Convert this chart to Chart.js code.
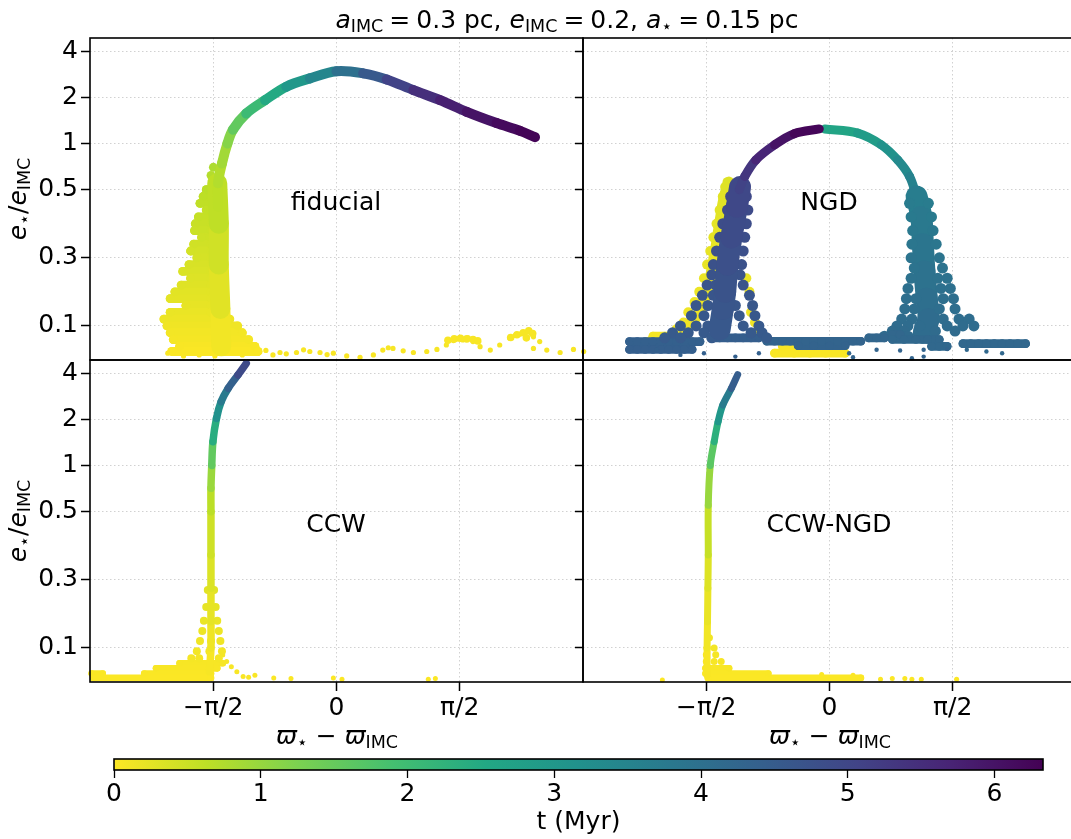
<!DOCTYPE html>
<html>
<head>
<meta charset="utf-8">
<script src="https://cdn.jsdelivr.net/npm/chart.js@4.4.1/dist/chart.umd.min.js"></script>
<style>
  html, body { margin: 0; padding: 0; background: #fff; overflow: hidden; }
  body { width: 1071px; height: 839px; position: relative; font-family: "DejaVu Sans", sans-serif; color: #000; }
  canvas { position: absolute; }
  .lbl { position: absolute; white-space: nowrap; transform: translate(-50%, -50%); font-size: 25px; line-height: 1; }
  .rot { transform: translate(-50%, -50%) rotate(-90deg); }
  .lbl i { font-style: oblique; }
  .lbl sub { font-size: 0.7em; vertical-align: -0.28em; line-height: 0; }
  .eq { margin: 0 0.24em; }
</style>
</head>
<body>
<canvas id="tl" width="610" height="340" style="left:0;top:30px"></canvas>
<canvas id="tr" width="510" height="340" style="left:575px;top:30px"></canvas>
<canvas id="bl" width="610" height="388" style="left:0;top:352px"></canvas>
<canvas id="br" width="510" height="388" style="left:575px;top:352px"></canvas>
<canvas id="cbar" width="981" height="89" style="left:90px;top:750px"></canvas>

<div class="lbl" style="left:567px;top:18.5px"><i>a</i><sub>IMC</sub><span class="eq">=</span>0.3 pc, <i>e</i><sub>IMC</sub><span class="eq">=</span>0.2, <i>a</i><sub>⋆</sub><span class="eq">=</span>0.15 pc</div>
<div class="lbl rot" style="left:17px;top:199px"><i>e</i><sub>⋆</sub>/<i>e</i><sub>IMC</sub></div>
<div class="lbl rot" style="left:17px;top:521px"><i>e</i><sub>⋆</sub>/<i>e</i><sub>IMC</sub></div>
<div class="lbl" style="left:337px;top:735px"><i>ϖ</i><sub>⋆</sub> − <i>ϖ</i><sub>IMC</sub></div>
<div class="lbl" style="left:830px;top:735px"><i>ϖ</i><sub>⋆</sub> − <i>ϖ</i><sub>IMC</sub></div>
<div class="lbl" style="left:336px;top:201px">fiducial</div>
<div class="lbl" style="left:829px;top:201px">NGD</div>
<div class="lbl" style="left:336px;top:523px">CCW</div>
<div class="lbl" style="left:829px;top:523px">CCW-NGD</div>

<script>
// axes
const T_MAX = 6.33;
const Y_MAX = 4.88;
const yTicks = [0.1, 0.3, 0.5, 1, 2, 4];
const xTicks = [-Math.PI / 2, 0, Math.PI / 2];
const xTickLabels = ['−π/2', '0', 'π/2'];
const cbTicks = [0, 1, 2, 3, 4, 5, 6];

// --- fiducial ---
// main track (x = ϖ⋆−ϖIMC, e = e⋆/eIMC, t in Myr)
const fidX = [-1.51,-1.51,-1.46,-1.39,-1.32,-1.15,-0.91,-0.64,-0.34,0.00,0.34,0.64,0.98,1.32,1.66,2.04,2.34,2.53];
const fidE = [0.45,0.55,0.74,1.00,1.23,1.57,1.92,2.35,2.66,2.96,2.87,2.62,2.23,1.92,1.61,1.36,1.21,1.10];
const fidT = [0.58,0.68,0.78,1.00,1.30,1.80,2.25,2.75,3.20,3.70,4.30,4.85,5.30,5.65,5.90,6.10,6.22,6.33];
// dense stalk core
const fidCoreX = [-1.47,-1.48,-1.50,-1.50,-1.52];
const fidCoreE = [0.04,0.15,0.28,0.40,0.55];
const fidCoreT = [0.03,0.18,0.38,0.52,0.70];
// jagged clumps beside the stalk, one row per e level
const fidBlobE = [0.70,0.62,0.50,0.48,0.46,0.44,0.42,0.40,0.38,0.36,0.34,0.32,0.30,0.28,0.26,0.24,0.22,0.20,0.18,0.16,0.14,0.12,0.10,0.08,0.06,0.04,0.025];
const fidBlobT = [0.78,0.72,0.66,0.63,0.60,0.57,0.55,0.52,0.50,0.47,0.45,0.42,0.40,0.37,0.35,0.32,0.30,0.27,0.25,0.22,0.19,0.16,0.13,0.10,0.08,0.05,0.03];
const fidBlobX = [
  [-1.57], [-1.60], [-1.66,-1.60], [-1.70,-1.60], [-1.74,-1.60], [-1.66,-1.60], [-1.76,-1.60], [-1.80,-1.60],
  [-1.81,-1.60], [-1.72,-1.60], [-1.82,-1.60], [-1.86,-1.60], [-1.78,-1.60], [-1.88,-1.60], [-1.96,-1.60],
  [-1.86,-1.60], [-1.98,-1.60], [-2.06,-1.60], [-2.12,-1.60], [-1.92,-1.60], [-2.12,-1.60], [-2.20,-1.36],
  [-2.16,-1.26], [-2.12,-1.20], [-2.08,-1.12], [-2.00,-1.04], [-2.10,-1.00]
];
const fidHumpX = [1.42,1.50,1.58,1.66,1.74,1.80,2.22,2.30,2.38,2.45,2.50,2.42];
const fidHumpE = [0.058,0.062,0.064,0.062,0.060,0.056,0.066,0.074,0.080,0.086,0.078,0.065];
const fidHumpT = [0.04,0.04,0.05,0.05,0.05,0.05,0.06,0.06,0.06,0.07,0.07,0.06];
const fidTailX = [-2.15,-1.95,-1.75,-1.55,-1.35,-1.20,-1.10,-1.00,-0.90,-0.81,-0.72,-0.64,-0.51,-0.42,-0.34,-0.21,-0.12,-0.04,0.13,0.30,0.47,0.59,0.66,0.72,0.85,0.98,1.15,1.28,1.40,1.49,1.55,1.61,1.68,1.74,1.83,1.96,2.08,2.21,2.28,2.34,2.40,2.44,2.51,2.59,2.51,2.68,2.85,3.02,3.15,3.23,3.30,3.38];
const fidTailE = [0.020,0.012,0.015,0.012,0.020,0.015,0.030,0.020,0.028,0.015,0.022,0.018,0.022,0.030,0.025,0.022,0.016,0.020,0.012,0.008,0.015,0.029,0.036,0.034,0.027,0.022,0.025,0.031,0.044,0.057,0.062,0.059,0.065,0.054,0.039,0.029,0.044,0.064,0.072,0.076,0.080,0.083,0.068,0.054,0.034,0.029,0.022,0.031,0.025,0.039,0.030,0.018];
const fidTailT = [0.03,0.03,0.03,0.03,0.03,0.03,0.04,0.04,0.05,0.04,0.05,0.05,0.04,0.05,0.05,0.04,0.04,0.05,0.04,0.04,0.04,0.05,0.06,0.06,0.05,0.05,0.05,0.06,0.07,0.08,0.08,0.08,0.08,0.07,0.06,0.05,0.06,0.07,0.08,0.09,0.09,0.10,0.09,0.08,0.06,0.05,0.05,0.05,0.04,0.05,0.04,0.03];

// --- NGD ---
const ngdRX = [-0.06,0.36,0.66,0.87,1.02,1.11];
const ngdRE = [1.245,1.17,0.98,0.78,0.61,0.48];
const ngdRT = [2.55,2.75,3.00,3.25,3.45,3.62];
const ngdRLegX = [1.11,1.17,1.19,1.21,1.24,1.26,1.20];
const ngdRLegE = [0.48,0.42,0.34,0.26,0.18,0.12,0.08];
const ngdRLegT = [3.62,3.72,3.82,3.92,4.00,4.06,4.12];
const ngdRBlobE = [0.46,0.42,0.38,0.34,0.30,0.27,0.24,0.21,0.18,0.15,0.12,0.10,0.085,0.07];
const ngdRBlobT = [3.70,3.75,3.80,3.85,3.90,3.93,3.96,3.99,4.02,4.05,4.08,4.10,4.12,4.14];
const ngdRBlobX = [
  [1.02,1.26], [1.04,1.30], [1.06,1.32], [1.05,1.36], [1.04,1.40], [1.08,1.44], [1.04,1.38,1.50],
  [1.00,1.42,1.54], [0.98,1.10,1.45,1.58], [0.96,1.08,1.40,1.60], [0.92,1.05,1.45,1.65,1.78],
  [0.86,1.00,1.15,1.50,1.70,1.84], [0.80,0.95,1.35,1.60], [0.70,0.85,1.00]
];
const ngdLegX = [-1.40,-1.36,-1.33,-1.30,-1.25,-1.18,-1.14];
const ngdLegE = [0.09,0.15,0.20,0.28,0.36,0.45,0.52];
const ngdLegT = [4.55,4.62,4.68,4.75,4.82,4.92,5.00];
const ngdLX = [-1.15,-1.08,-0.94,-0.70,-0.45,-0.13];
const ngdLE = [0.50,0.61,0.78,0.98,1.16,1.245];
const ngdLT = [4.98,5.20,5.50,5.85,6.15,6.33];
const ngdLBlobE = [0.48,0.44,0.40,0.36,0.32,0.28,0.25,0.22,0.19,0.16,0.13,0.10,0.08,0.065];
const ngdLBlobT = [4.95,4.90,4.86,4.82,4.78,4.75,4.72,4.69,4.66,4.63,4.60,4.57,4.54,4.52];
const ngdLBlobX = [
  [-1.26,-1.06], [-1.30,-1.04], [-1.36,-1.06], [-1.40,-1.08], [-1.44,-1.10], [-1.48,-1.12], [-1.50,-1.14],
  [-1.56,-1.45,-1.10], [-1.62,-1.48,-1.02], [-1.70,-1.55,-1.20,-0.98], [-1.76,-1.60,-1.15,-0.95],
  [-1.90,-1.70,-1.55,-1.10,-0.90], [-2.00,-1.80,-1.60,-1.00,-0.86], [-2.10,-1.90,-1.50,-0.80]
];
// early (yellow) points along the left leg and along the bottom
const ngdYelTrackX = [-1.28,-1.34,-1.40,-1.47,-1.54,-1.62,-1.72,-1.85];
const ngdYelTrackE = [0.56,0.48,0.40,0.30,0.22,0.16,0.12,0.09];
const ngdYelTrackT = [0.32,0.28,0.25,0.21,0.18,0.15,0.13,0.11];
const ngdYelE = [0.56,0.52,0.48,0.44,0.40,0.36,0.32,0.28,0.24,0.20,0.17,0.14,0.11,0.09];
const ngdYelT = [0.32,0.30,0.28,0.27,0.25,0.24,0.22,0.21,0.19,0.17,0.16,0.14,0.12,0.11];
const ngdYelX = [
  [-1.30], [-1.33], [-1.36], [-1.40], [-1.44], [-1.48], [-1.52], [-1.56], [-1.60,-1.06], [-1.66,-1.02],
  [-1.72], [-1.80,-1.00], [-1.86,-0.95], [-1.95,-0.90]
];
const ngdYelLowE = [0.07,0.055,0.04,0.02];
const ngdYelLowT = [0.09,0.08,0.06,0.04];
const ngdYelLowX = [
  [-2.25,-2.10,-1.90], [-2.30,-2.15], [-0.60,-0.40,-0.20,0.00,0.15], [-0.70,-0.45,-0.25,-0.05,0.20]
];
const ngdSprayE = [0.054,0.031,0.065,0.055,0.042,0.065,0.075,0.060,0.048,0.040];
const ngdSprayT = [4.40,4.42,4.45,4.30,4.32,4.26,4.24,4.20,4.22,4.21];
const ngdSprayX = [
  [-2.55,-2.45,-2.35,-2.25,-2.15,-2.05,-1.95,-1.85,-1.75,-1.65],
  [-2.55,-2.45,-2.35,-2.25,-2.15,-2.05,-1.95,-1.85,-1.75],
  [-1.50,-1.40,-1.30,-1.20,-1.10,-1.00,-0.90],
  [-0.80,-0.70,-0.60,-0.50,-0.40,-0.30,-0.20,-0.10,0.00,0.10,0.20,0.30,0.40],
  [-0.40,-0.20,0.00,0.20],
  [0.50,0.60,0.70],
  [0.80,0.90],
  [0.80,0.95,1.10,1.25,1.40],
  [1.70,1.80,1.90,2.00,2.10,2.20,2.30,2.40,2.50],
  [1.30,1.40,1.50]
];
const ngdDotX = [0.60,0.90,1.20,1.50,0.25,-0.90,-1.90,-2.20,0.30,1.20,2.00,2.20,-1.20,-1.60,1.05,1.75];
const ngdDotE = [0.030,0.028,0.030,0.032,0.020,0.020,0.015,0.030,0.008,0.010,0.025,0.020,0.010,0.020,0.005,0.030];
const ngdDotT = [4.30,4.30,4.30,4.30,4.30,4.40,4.40,4.40,4.30,4.30,4.20,4.20,4.40,4.40,4.30,4.20];

// --- CCW ---
const ccwX = [-1.62,-1.60,-1.60,-1.60,-1.60,-1.60,-1.60,-1.59,-1.575,-1.53,-1.47,-1.38,-1.255,-1.15];
const ccwE = [0.03,0.10,0.177,0.275,0.373,0.50,0.71,1.00,1.43,2.03,2.61,3.19,3.90,4.64];
const ccwT = [0.02,0.10,0.18,0.28,0.40,0.52,0.78,1.15,1.95,2.85,3.50,4.00,4.75,5.10];
const ccwFlareE = [0.27,0.22,0.18,0.15,0.12,0.09,0.07];
const ccwFlareT = [0.28,0.23,0.19,0.16,0.13,0.10,0.08];
const ccwFlareX = [
  [-1.64,-1.56], [-1.66,-1.54], [-1.69,-1.52], [-1.71,-1.50], [-1.74,-1.60,-1.48], [-1.78,-1.62,-1.46],
  [-1.85,-1.75,-1.50]
];
const ccwBaseE = [0.055,0.04,0.025,0.025,0.012];
const ccwBaseT = [0.06,0.05,0.03,0.03,0.02];
const ccwBaseX = [[-2.00,-1.45], [-2.30,-1.52], [-3.12,-2.98], [-2.45,-1.60], [-3.10,-1.60]];
const ccwDotX = [-1.45,-1.40,-1.34,-1.27,-1.19,-1.12,-1.04,-0.80,-0.58,-0.04,0.07,1.17,1.26];
const ccwDotE = [0.079,0.060,0.045,0.030,0.016,0.014,0.020,0.012,0.010,0.012,0.008,0.008,0.010];
const ccwDotT = [0.08,0.07,0.06,0.05,0.04,0.04,0.04,0.03,0.03,0.02,0.02,0.02,0.02];

// --- CCW-NGD ---
const cnX = [-1.56,-1.56,-1.555,-1.55,-1.545,-1.545,-1.52,-1.47,-1.42,-1.36,-1.25,-1.17];
const cnE = [0.02,0.10,0.177,0.275,0.373,0.55,1.00,1.43,1.93,2.48,3.19,3.92];
const cnT = [0.02,0.08,0.15,0.25,0.38,0.70,1.27,2.00,2.65,3.35,4.05,4.90];
const cnFlareE = [0.13,0.10,0.08,0.06];
const cnFlareT = [0.12,0.10,0.08,0.06];
const cnFlareX = [[-1.53], [-1.56,-1.47], [-1.57,-1.45], [-1.57,-1.47,-1.38]];
const cnBaseE = [0.04,0.025,0.012];
const cnBaseT = [0.05,0.03,0.02];
const cnBaseX = [[-1.58,-1.28], [-1.58,-0.78], [-1.55,0.40]];
const cnDotX = [0.65,0.80,0.96,1.05,1.17,1.62,-2.13,0.30,-0.10];
const cnDotE = [0.008,0.010,0.010,0.008,0.008,0.008,0.006,0.020,0.022];
const cnDotT = [0.02,0.02,0.02,0.02,0.02,0.02,0.01,0.02,0.02];

// viridis, reversed so early times are yellow
const VIRIDIS = [[68,1,84],[72,36,117],[65,68,135],[53,95,141],[42,120,142],[33,145,140],[34,168,132],[68,191,112],[122,209,81],[189,223,38],[253,231,37]];
function colorAt(t) {
  const v = Math.min(1, Math.max(0, 1 - t / T_MAX)) * 10;
  const i = Math.min(9, Math.floor(v));
  const f = v - i;
  const a = VIRIDIS[i], b = VIRIDIS[i + 1];
  return 'rgb(' + [0, 1, 2].map(k => Math.round(a[k] + (b[k] - a[k]) * f)).join(',') + ')';
}

// matplotlib-style symlog (base 10, linthresh 0.5, linscale 1)
const LINTHRESH = 0.5;
const LINSCALE = 1 / (1 - 1 / 10);
function symlog(v) {
  const a = Math.abs(v);
  const r = a <= LINTHRESH ? a * LINSCALE : LINTHRESH * (LINSCALE + Math.log10(a / LINTHRESH));
  return v < 0 ? -r : r;
}
function symlogInv(r) {
  const a = Math.abs(r);
  const v = a <= LINTHRESH * LINSCALE ? a / LINSCALE : LINTHRESH * Math.pow(10, a / LINTHRESH - LINSCALE);
  return r < 0 ? -v : v;
}

class SymlogScale extends Chart.LinearScale {
  static id = 'symlog';
  static defaults = {};
  buildTicks() {
    return yTicks.map(v => ({ value: v }));
  }
  configure() {
    super.configure();
    this._sMin = symlog(this.min);
    this._sMax = symlog(this.max);
  }
  getPixelForValue(v) {
    return this.getPixelForDecimal((symlog(v) - this._sMin) / (this._sMax - this._sMin));
  }
  getValueForPixel(p) {
    return symlogInv(this._sMin + this.getDecimalForPixel(p) * (this._sMax - this._sMin));
  }
}
Chart.register(SymlogScale);
Chart.defaults.font.family = '"DejaVu Sans", sans-serif';

const GRID = 'rgba(0,0,0,0.18)';
const GRID_DASH = [1.5, 2.5];
const TICK_FONT = { size: 25 };

const frame = {
  id: 'frame',
  afterDatasetsDraw(chart) {
    const { ctx, chartArea: a } = chart;
    ctx.save();
    ctx.strokeStyle = '#000';
    ctx.lineWidth = 1.6;
    ctx.strokeRect(a.left, a.top, a.right - a.left, a.bottom - a.top);
    ctx.restore();
  }
};

function pts(xs, es, ts) {
  return xs.map((x, i) => ({ x: x, y: es[i], t: ts[i] }));
}

// expand row tables (one e and t per row, several x) into point lists
function rows(rowX, rowE, rowT) {
  const xs = [], es = [], ts = [];
  rowX.forEach((r, i) => r.forEach(x => { xs.push(x); es.push(rowE[i]); ts.push(rowT[i]); }));
  return [xs, es, ts];
}

function dots(xs, es, ts, r) {
  return {
    data: pts(xs, es, ts),
    pointRadius: r,
    pointBorderWidth: 0,
    pointBackgroundColor: c => (c.raw ? colorAt(c.raw.t) : '#000'),
    clip: false
  };
}

// each row of clumped points drawn as one short thick stroke
function bars(rowX, rowE, rowT, w) {
  const out = [];
  rowX.forEach((r, i) => {
    if (r.length < 2) return;
    out.push({
      type: 'line',
      data: r.map(x => ({ x: x, y: rowE[i], t: rowT[i] })),
      borderWidth: w,
      borderColor: colorAt(rowT[i]),
      borderCapStyle: 'round',
      borderJoinStyle: 'round',
      tension: 0,
      pointRadius: 0,
      fill: false,
      clip: false
    });
  });
  return out;
}

function clumps(rowX, rowE, rowT, r) {
  return [...bars(rowX, rowE, rowT, 2 * r), dots(...rows(rowX, rowE, rowT), r)];
}

function track(xs, es, ts, w) {
  const data = pts(xs, es, ts);
  return {
    type: 'line',
    data: data,
    borderWidth: w,
    borderColor: colorAt(ts[0]),
    borderCapStyle: 'round',
    borderJoinStyle: 'round',
    tension: 0.35,
    pointRadius: 0,
    fill: false,
    clip: false,
    segment: { borderColor: c => colorAt((data[c.p0DataIndex].t + data[c.p1DataIndex].t) / 2) }
  };
}

function panel(id, layers, o) {
  const tickGrid = { color: GRID, lineWidth: 1, tickLength: 9, tickColor: '#000', tickWidth: 1.5, tickBorderDash: [] };
  return new Chart(document.getElementById(id), {
    type: 'scatter',
    // layers are listed bottom to top; Chart.js paints dataset 0 last
    data: { datasets: layers.slice().reverse() },
    options: {
      animation: false,
      responsive: false,
      events: [],
      layout: { padding: o.padding },
      plugins: { legend: { display: false }, tooltip: { enabled: false } },
      scales: {
        x: {
          type: 'linear',
          min: -Math.PI,
          max: Math.PI,
          afterBuildTicks: s => { s.ticks = xTicks.map(v => ({ value: v })); },
          afterFit: s => { s.height = o.xHeight; s.paddingLeft = 0; s.paddingRight = 0; },
          grid: Object.assign({}, tickGrid, { drawTicks: o.xLabels }),
          border: { display: false, dash: GRID_DASH },
          ticks: { display: o.xLabels, padding: 2, maxRotation: 0, autoSkip: false, font: TICK_FONT, color: '#000', callback: (v, i) => xTickLabels[i] }
        },
        y: {
          type: 'symlog',
          min: 0,
          max: Y_MAX,
          afterFit: s => { s.width = o.yWidth; s.paddingTop = 0; s.paddingBottom = 0; },
          grid: Object.assign({}, tickGrid, { drawTicks: true }),
          border: { display: false, dash: GRID_DASH },
          ticks: { display: o.yLabels, padding: 3, autoSkip: false, font: TICK_FONT, color: '#000', callback: v => String(v) }
        }
      }
    },
    plugins: [frame]
  });
}

panel('tl', [
  dots(fidTailX, fidTailE, fidTailT, 2.6),
  dots(fidHumpX, fidHumpE, fidHumpT, 3.8),
  ...clumps(fidBlobX, fidBlobE, fidBlobT, 4.4),
  track(fidCoreX, fidCoreE, fidCoreT, 20),
  track(fidX, fidE, fidT, 10)
], { padding: { left: 0, top: 8, right: 27, bottom: 0 }, xHeight: 10, yWidth: 90, xLabels: false, yLabels: true });

panel('tr', [
  ...clumps(ngdYelLowX, ngdYelLowE, ngdYelLowT, 4.4),
  track(ngdYelTrackX, ngdYelTrackE, ngdYelTrackT, 11),
  dots(...rows(ngdYelX, ngdYelE, ngdYelT), 5),
  track(ngdRX, ngdRE, ngdRT, 9),
  track(ngdRLegX, ngdRLegE, ngdRLegT, 22),
  dots(...rows(ngdRBlobX, ngdRBlobE, ngdRBlobT), 5.5),
  ...clumps(ngdSprayX, ngdSprayE, ngdSprayT, 4.3),
  dots(ngdDotX, ngdDotE, ngdDotT, 2.2),
  dots(...rows(ngdLBlobX, ngdLBlobE, ngdLBlobT), 5.5),
  track(ngdLegX, ngdLegE, ngdLegT, 22),
  track(ngdLX, ngdLE, ngdLT, 9)
], { padding: { left: 0, top: 8, right: 9, bottom: 0 }, xHeight: 10, yWidth: 8, xLabels: false, yLabels: false });

panel('bl', [
  dots(ccwDotX, ccwDotE, ccwDotT, 2.5),
  ...clumps(ccwBaseX, ccwBaseE, ccwBaseT, 3.3),
  dots(...rows(ccwFlareX, ccwFlareE, ccwFlareT), 4),
  track(ccwX, ccwE, ccwT, 7.5)
], { padding: { left: 0, top: 8, right: 27, bottom: 0 }, xHeight: 58, yWidth: 90, xLabels: true, yLabels: true });

panel('br', [
  dots(cnDotX, cnDotE, cnDotT, 2.5),
  ...clumps(cnBaseX, cnBaseE, cnBaseT, 3.3),
  dots(...rows(cnFlareX, cnFlareE, cnFlareT), 3.5),
  track(cnX, cnE, cnT, 7)
], { padding: { left: 0, top: 8, right: 9, bottom: 0 }, xHeight: 58, yWidth: 8, xLabels: true, yLabels: false });

// colour bar
new Chart(document.getElementById('cbar'), {
  type: 'bar',
  data: {
    labels: [''],
    datasets: [{
      data: [[0, T_MAX]],
      barPercentage: 1,
      categoryPercentage: 1,
      borderWidth: 0,
      backgroundColor: c => {
        const a = c.chart.chartArea;
        if (!a) return 'transparent';
        const g = c.chart.ctx.createLinearGradient(a.left, 0, a.right, 0);
        for (let k = 0; k <= 10; k++) g.addColorStop(k / 10, colorAt(k / 10 * T_MAX));
        return g;
      }
    }]
  },
  options: {
    indexAxis: 'y',
    animation: false,
    responsive: false,
    events: [],
    layout: { padding: { left: 24, top: 9, right: 28, bottom: 0 } },
    plugins: { legend: { display: false }, tooltip: { enabled: false } },
    scales: {
      x: {
        type: 'linear',
        min: 0,
        max: T_MAX,
        afterBuildTicks: s => { s.ticks = cbTicks.map(v => ({ value: v })); },
        afterFit: s => { s.height = 69; s.paddingLeft = 0; s.paddingRight = 0; },
        grid: { drawOnChartArea: false, drawTicks: true, tickLength: 8, tickColor: '#000', tickWidth: 1.3 },
        border: { display: false },
        ticks: { font: TICK_FONT, color: '#000', padding: 1, maxRotation: 0, autoSkip: false },
        title: { display: true, text: 't (Myr)', font: TICK_FONT, color: '#000', padding: { top: 0, bottom: 2 } }
      },
      y: { display: false }
    }
  },
  plugins: [frame]
});
</script>
</body>
</html>
